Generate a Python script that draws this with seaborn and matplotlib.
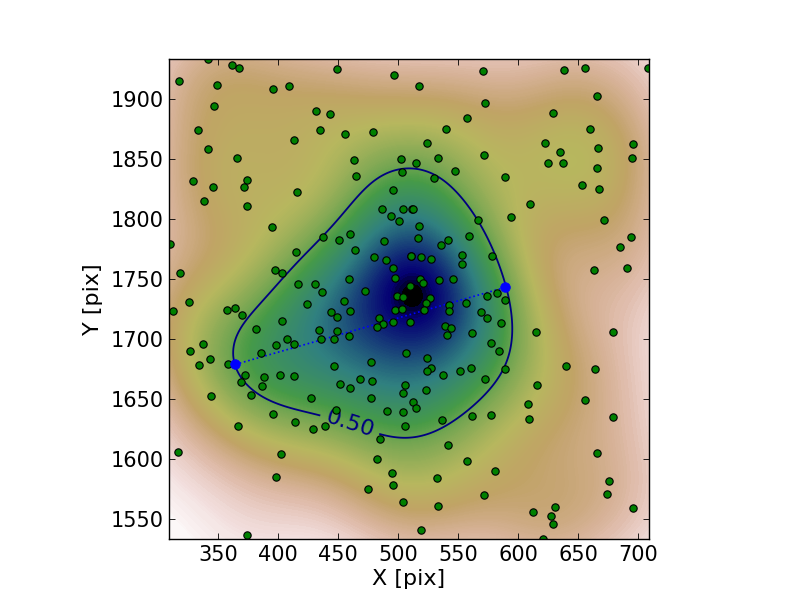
import matplotlib
matplotlib.use("Agg")
import matplotlib.pyplot as plt
import numpy as np
import seaborn as sns

xs = [341.8, 361.8, 367.6, 449.3, 496.8, 317.6, 349.3, 396, 409.3, 346.8, 431.8, 443.5, 333.5, 435.1, 456,
      479.3, 413.5, 341.8, 366, 463.5, 502.6, 465.1, 503.5, 329.3, 374.3, 346, 371.8, 416, 496, 338.5,
      374.3, 486.8, 504.3, 511.8, 494.3, 501, 395.1, 437.6, 451, 460.1, 488.5, 310.1, 415.1, 464.3, 480.1,
      490.1, 510.7, 496, 318.5, 397.6, 403.5, 497.6, 459.3, 416.8, 431, 510.1, 436.8, 472.6, 499.3, 504.3,
      455.1,
      571, 638.5, 656, 708.5, 517.6, 666, 572.6, 629.3, 557.6, 540.1, 660.1, 622.6, 524.3, 696, 635.1,
      666.8, 571.8, 533.5, 695.1, 515.1, 625.1, 637.6, 666, 547.6, 530.1, 589.3, 653.5, 667.6, 610.1, 512.6,
      566.8, 594.3, 671.8, 517.6, 559.3, 694.3, 516.8, 541.8, 536, 685.1, 553.5, 511, 519.3, 527.6, 578.5,
      553.5, 663.5, 691, 518.5, 534.3, 546, 521, 582.6, 574.3, 526.8, 589.3,
      326, 312.6, 357.6, 364.3, 370.1, 424.3, 444.3, 449.3, 460.1, 403.5, 381.8, 434.3, 449.3, 436, 446.8,
      459.3, 484.3, 497.6, 503.5, 487.6, 482.6, 496, 510.1, 407.6, 413.5, 398.5, 337.6, 326.8, 343.5, 334.3,
      358.5, 386, 506.8, 446.8, 477.6, 372.6, 388.5, 401.8, 413.5, 369.3, 386.8, 451.8, 460.1, 468.5, 478.5,
      506, 504.3, 344.3, 377.6, 427.6, 477.6, 512.6, 448.5, 491, 504.3, 396, 414.3, 366.8, 429.3, 439.3,
      506, 485.1, 316.8, 402.6, 482.6, 495.1, 398.5, 496, 475.1, 504.3, 374.3,
      523.5, 542.6, 542.6, 521.8, 556.8, 569.3, 574.3, 586, 539.3, 544.3, 541, 561.8, 615.1, 679.3, 577.6,
      584.3, 524.3, 561, 527.6, 524.3, 537.6, 551.8, 589.3, 640.1, 664.3, 572.6, 616, 523.5, 515.1, 656,
      608.5, 609.3, 679.3, 561.8, 577.6, 536.8, 541.8, 666, 557.6, 581, 532.6, 676, 674.3, 571.8, 533.5,
      631, 612.6, 696, 627.6, 629.3, 519.3, 621]
ys = [1933.2, 1928.2, 1925.7, 1924.9, 1919.9, 1914.9, 1911.5, 1908.2, 1910.7, 1894, 1889.9, 1887.4, 1874, 1874, 1870.7,
      1872.4, 1865.7, 1858.2, 1850.7, 1849, 1849.9, 1835.7, 1839, 1831.5, 1832.4, 1826.5, 1826.5, 1822.4, 1824, 1814.9,
      1810.7, 1808.2, 1808.2, 1808.2, 1802.4, 1798.2, 1793.2, 1784.9, 1782.4, 1787.4, 1781.5, 1779, 1772.4, 1774, 1768.2,
      1765.7, 1769, 1759, 1754.9, 1757.4, 1754.9, 1750.7, 1749.9, 1745.7, 1745.7, 1744, 1739, 1739.9, 1735.7, 1734.9,
      1731.8,
      1923.2, 1924, 1925.7, 1925.7, 1910.7, 1902.4, 1896.5, 1888.2, 1884, 1874.9, 1874.9, 1863.2, 1863.2, 1862.4, 1855.7,
      1859, 1853.2, 1850.7, 1850.7, 1846.5, 1846.5, 1846.5, 1842.4, 1839.9, 1834, 1834.9, 1828.2, 1824.9, 1812.4, 1808.2,
      1799, 1801.5, 1799, 1794, 1785.7, 1784.9, 1784, 1782.4, 1778.2, 1776.5, 1769.9, 1769, 1768.2, 1766.5, 1769,
      1762.4, 1757.4, 1759, 1749.9, 1749, 1749.9, 1746.5, 1738.2, 1735.7, 1734, 1732.4,
      1730.7, 1723.2, 1724, 1725.7, 1719.9, 1729, 1722.4, 1718.2, 1723.2, 1714.9, 1708.2, 1707.4, 1706.5, 1699.9, 1699.9,
      1702.4, 1717.4, 1724, 1724.9, 1712.4, 1709.9, 1714, 1714, 1699.9, 1695.7, 1694.9, 1695.7, 1689.9, 1683.2, 1678.2,
      1679, 1688.2, 1688.2, 1677.4, 1680.7, 1669.9, 1668.2, 1669.9, 1669, 1664, 1660.7, 1662.4, 1659, 1666.5, 1664.9,
      1661.5, 1654.9, 1652.4, 1653.2, 1650.7, 1650.7, 1647.4, 1640.7, 1639.9, 1639, 1637.4, 1630.7, 1627.4, 1624.9, 1627.4,
      1627.4, 1616.5, 1605.7, 1604, 1599.9, 1588.2, 1584.9, 1578.2, 1574.9, 1564, 1536.5,
      1729.9, 1728.2, 1723.2, 1724, 1729.9, 1722.4, 1717.4, 1713.2, 1710.7, 1709, 1703.2, 1704.9, 1705.7, 1705.7, 1696.5,
      1689.9, 1684, 1675.7, 1675.7, 1673.2, 1669.9, 1673.2, 1674.9, 1677.4, 1674.9, 1666.5, 1661.5, 1657.4, 1642.4, 1649,
      1645.7, 1633.2, 1634.9, 1635.7, 1636.5, 1632.4, 1611.5, 1604.9, 1598.2, 1589.9, 1584, 1581.5, 1570.7, 1569.9, 1560.7,
      1559.9, 1555.7, 1559, 1552.4, 1545.7, 1540.7, 1533.2]

axis_x = [364.3, 589.3]
axis_y = [1679, 1743.2]
xticks = [350, 400, 450, 500, 550, 600, 650, 700]
yticks = [1550, 1600, 1650, 1700, 1750, 1800, 1850, 1900]
xlim = (309, 709)
ylim = (1533.5, 1933.5)
BW = 1.0

fig = plt.figure(figsize=(8, 6), dpi=100)
ax = fig.add_axes([0.2113, 0.1017, 0.6, 0.8])
box = (xlim, ylim)

# extra levels at the low end so the corners fade out to white
fill_levels = np.unique(np.r_[0, np.geomspace(1e-4, 0.02, 25), np.linspace(0.02, 1, 220)])

# background: mass fraction from the kde
sns.kdeplot(x=xs, y=ys, fill=True, levels=fill_levels, cmap="gist_earth_r", bw_adjust=BW,
            gridsize=200, clip=box, antialiased=False, ax=ax)

# half-mass contour (seaborn counts the mass below the level)
sns.kdeplot(x=xs, y=ys, levels=[0.55], color="#000080", linewidths=1.3, bw_adjust=BW,
            gridsize=200, clip=box, ax=ax)
cset = ax.collections[-1]
ax.clabel(cset, fmt=lambda v: "0.50", fontsize=16, manual=[(459, 1627)], inline_spacing=6)

sns.lineplot(x=axis_x, y=axis_y, color="#0000ff", linestyle=":", linewidth=1.2, ax=ax, zorder=3)
sns.scatterplot(x=xs, y=ys, s=28, color="#008000", edgecolor="black", linewidth=0.8, ax=ax, zorder=4)
sns.scatterplot(x=axis_x, y=axis_y, s=48, color="#0000ff", edgecolor="#0000ff", ax=ax, zorder=5)

ax.set_xlim(xlim)
ax.set_ylim(ylim)
ax.set_xticks(xticks)
ax.set_yticks(yticks)
ax.tick_params(direction="in", top=True, right=True, labelsize=15, length=4, width=0.6, pad=4)
ax.set_xlabel("X [pix]", fontsize=16, labelpad=3)
ax.set_ylabel("Y [pix]", fontsize=16, labelpad=5)
for s in ax.spines.values():
    s.set_linewidth(1.0)
    s.set_zorder(10)

fig.savefig("out.png", dpi=100)
